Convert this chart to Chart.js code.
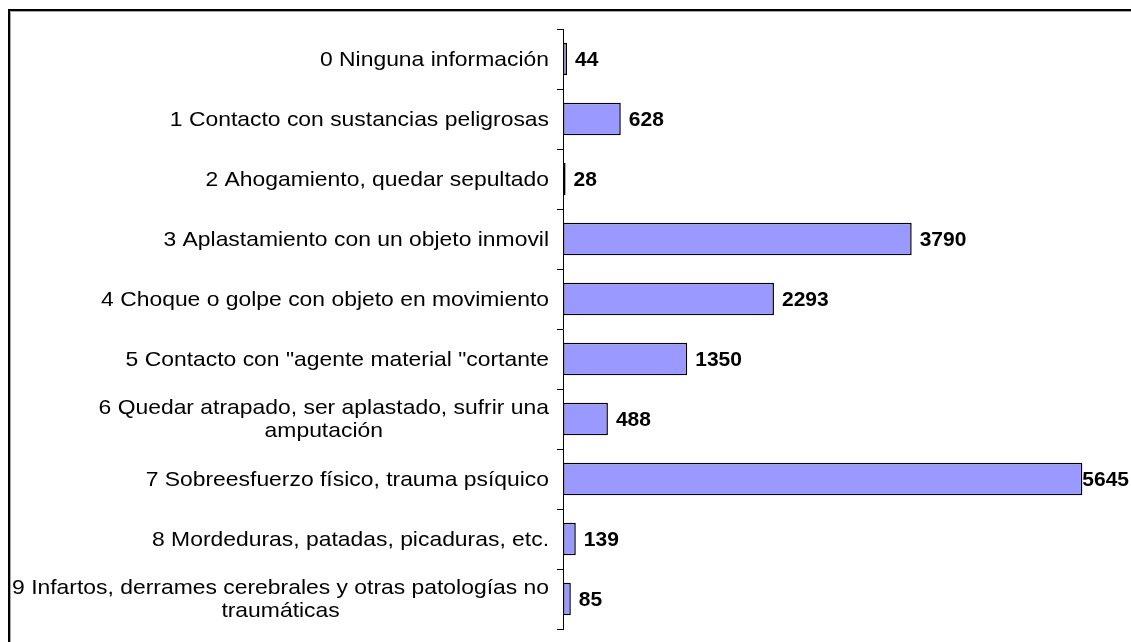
<!DOCTYPE html>
<html>
<head>
<meta charset="utf-8">
<script src="https://cdn.jsdelivr.net/npm/chart.js@4/dist/chart.umd.min.js"></script>
<style>
  html, body { margin: 0; padding: 0; background: #fff; }
  #wrap { position: relative; width: 1131px; height: 642px; overflow: hidden; }
  #frame {
    position: absolute; left: 8px; top: 9px; width: 1200px; height: 700px;
    border-left: 2px solid #000; border-top: 2px solid #000;
    box-shadow: inset 1px 1px 0 #aaa; pointer-events: none;
  }
  canvas { position: absolute; left: 0; top: 0; }
</style>
</head>
<body>
<div id="wrap">
  <canvas id="barChart" width="1131" height="642"></canvas>
  <div id="frame"></div>
</div>
<script>
// categories (multi-line ones as arrays)
const categories = [
  "0 Ninguna información",
  "1 Contacto con sustancias peligrosas",
  "2 Ahogamiento, quedar sepultado",
  "3 Aplastamiento con un objeto inmovil",
  "4 Choque o golpe con objeto en movimiento",
  "5 Contacto con \"agente material \"cortante",
  ["6 Quedar atrapado, ser aplastado, sufrir una", "amputación"],
  "7 Sobreesfuerzo físico, trauma psíquico",
  "8 Mordeduras, patadas, picaduras, etc.",
  ["9 Infartos, derrames cerebrales y otras patologías no", "traumáticas"]
];
const values = [44, 628, 28, 3790, 2293, 1350, 488, 5645, 139, 85];
const xMax = 6000;

const FONT = "'Liberation Sans', Arial, sans-serif";

// y labels: right aligned block, extra lines centred under the first
// (the source text is a bit wider than Arial, so stretch it a little)
const catLabels = {
  id: "catLabels",
  afterDraw(chart) {
    const ctx = chart.ctx;
    const y = chart.scales.y;
    const sx = 1.09;
    ctx.save();
    ctx.font = "21px " + FONT;
    ctx.fillStyle = "#000";
    ctx.textAlign = "center";
    ctx.textBaseline = "middle";
    const right = y.right - 14;
    const lh = 23;
    categories.forEach((c, i) => {
      const lines = Array.isArray(c) ? c : [c];
      const w = sx * Math.max(...lines.map(l => ctx.measureText(l).width));
      const cy = y.getPixelForValue(i) - (lines.length - 1) * lh / 2 + 1;
      lines.forEach((l, k) => {
        ctx.save();
        ctx.translate(right - w / 2, cy + k * lh);
        ctx.scale(sx, 1);
        ctx.fillText(l, 0, 0);
        ctx.restore();
      });
    });
    ctx.restore();
  }
};

// bold value labels at the bar ends
const valueLabels = {
  id: "valueLabels",
  afterDatasetsDraw(chart) {
    const ctx = chart.ctx;
    const meta = chart.getDatasetMeta(0);
    ctx.save();
    ctx.font = "bold 21px " + FONT;
    ctx.fillStyle = "#000";
    ctx.textBaseline = "middle";
    meta.data.forEach((bar, i) => {
      const t = String(values[i]);
      const w = ctx.measureText(t).width;
      const x = Math.min(bar.x + 8, chart.width - 2 - w);
      ctx.fillText(t, x, bar.y + 1);
    });
    ctx.restore();
  }
};

new Chart(document.getElementById("barChart"), {
  type: "bar",
  data: {
    labels: categories,
    datasets: [
      {
        data: values,
        backgroundColor: "#9999FF",
        borderColor: "#000",
        borderWidth: 1.5,
        borderSkipped: false,
        categoryPercentage: 1,
        barPercentage: 0.54,
      },
    ],
  },
  options: {
    indexAxis: "y",
    responsive: false,
    animation: false,
    layout: { padding: { top: 29, bottom: 13, right: 16, left: 0 } },
    plugins: { legend: { display: false }, tooltip: { enabled: false } },
    scales: {
      x: { display: false, min: 0, max: xMax },
      y: {
        afterFit(scale) { scale.width = 563; },
        grid: {
          offset: true,
          drawOnChartArea: false,
          drawTicks: true,
          tickLength: 6,
          color: "#000",
        },
        border: { display: true, color: "#000", width: 1 },
        ticks: { display: false },
      },
    },
  },
  plugins: [catLabels, valueLabels],
});
</script>
</body>
</html>
